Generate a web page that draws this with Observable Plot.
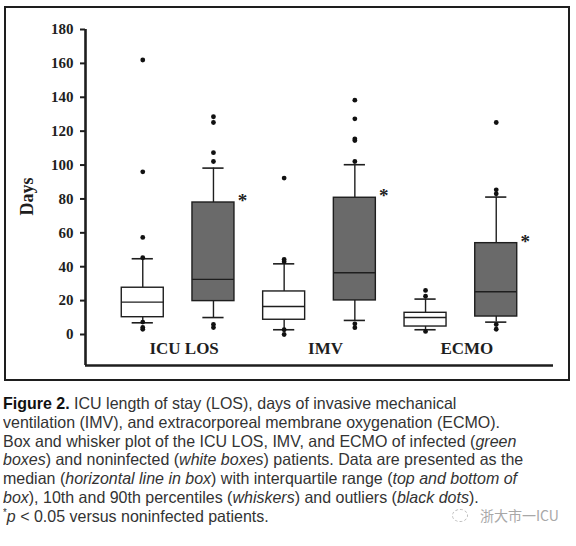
<!DOCTYPE html>
<html><head><meta charset="utf-8">
<script src="https://cdn.jsdelivr.net/npm/d3@7"></script>
<script src="https://cdn.jsdelivr.net/npm/@observablehq/plot@0.6"></script>
<style>
html,body{margin:0;padding:0;background:#fff}
body{width:576px;height:546px;position:relative;overflow:hidden}
#frame{position:absolute;left:4px;top:6px;width:562px;height:371px;border:2px solid #1e1e1e;overflow:hidden}
#caption{position:absolute;left:3px;top:394px;font-family:"Liberation Sans",Arial,sans-serif;font-size:16.5px;line-height:18.8px;color:#333;white-space:nowrap;transform-origin:0 0}
#caption b{color:#111}
#caption .l{display:inline-block}
#wm{position:absolute;left:452px;top:505px;color:#a8a8a8;font-size:14px;font-family:"Noto Sans CJK SC",sans-serif;white-space:nowrap}
#wm .ic{display:inline-block;width:14px;height:11px;border:1px dashed #bbb;border-radius:50%;margin-right:12px;vertical-align:-1px}
svg g[aria-label="y-axis tick"] path, svg g[aria-label="y-axis"] .tick line{stroke-width:2px}
</style></head>
<body>
<div id="frame"></div>
<div id="caption"></div>
<div id="wm"><span class="ic"></span>浙大市一ICU</div>
<script>
// ---- data ----
const groups = ["ICU LOS", "IMV", "ECMO"];
const statuses = ["noninfected", "infected"];
// box order: ICU LOS non, ICU LOS inf, IMV non, IMV inf, ECMO non, ECMO inf
const p10    = [6.9, 10.0, 2.8, 8.3, 2.8, 7.3];
const q1     = [10.2, 19.7, 8.7, 20.1, 4.7, 10.6];
const median = [19.1, 32.5, 16.5, 36.4, 10.0, 25.2];
const q3     = [27.6, 77.9, 25.4, 80.7, 12.8, 53.9];
const p90    = [44.7, 98.2, 41.7, 100.2, 20.9, 81.1];
const outliers = [
  [162, 96, 57.3, 45.3, 7.3, 4.2, 3.1],
  [128.5, 125.1, 107.3, 102.1, 5.9, 4.1],
  [92.3, 44.3, 43, 2.8, 0],
  [138.3, 127.3, 115.5, 114.5, 102.1, 6.3, 4],
  [26, 22.6, 1.8],
  [125.1, 85.4, 83, 5.9, 3.1]
];
const significant = [false, true, false, true, false, true];
const yTicks = [0, 20, 40, 60, 80, 100, 120, 140, 160, 180];
const yLabel = "Days";

// ---- build tables ----
const boxes = groups.flatMap((g, gi) => statuses.map((s, si) => {
  const i = gi * 2 + si;
  return {group: g, status: s, pos: i + 1, p10: p10[i], q1: q1[i], median: median[i], q3: q3[i], p90: p90[i], sig: significant[i]};
}));
const dots = boxes.flatMap((b, i) => outliers[i].map(v => ({pos: b.pos, value: v})));
const labels = groups.map((g, gi) => ({group: g, pos: gi * 2 + 1.5}));

const xDomain = [0.19, 6.81];
const yDomain = [-18.3, 180];
const half = 0.297, cap = 0.15;
const fill = {noninfected: "#ffffff", infected: "#6a6a6a"};
const ink = "#1e1e1e";
const serif = "'Liberation Serif','Times New Roman',serif";

const chart = Plot.plot({
  width: 562, height: 371,
  marginLeft: 79, marginRight: 15, marginTop: 21, marginBottom: 14,
  style: {fontFamily: serif, fontWeight: "bold", fontSize: "15px", color: ink, background: "white"},
  x: {domain: xDomain, axis: null},
  y: {domain: yDomain, ticks: yTicks, tickSize: 5, tickPadding: 7, label: null},
  color: {type: "identity"},
  marks: [
    Plot.ruleX(boxes, {x: "pos", y1: "q3", y2: "p90", stroke: ink, strokeWidth: 1.4}),
    Plot.ruleX(boxes, {x: "pos", y1: "p10", y2: "q1", stroke: ink, strokeWidth: 1.4}),
    Plot.ruleY(boxes, {y: "p90", x1: d => d.pos - cap, x2: d => d.pos + cap, stroke: ink, strokeWidth: 1.6}),
    Plot.ruleY(boxes, {y: "p10", x1: d => d.pos - cap, x2: d => d.pos + cap, stroke: ink, strokeWidth: 1.6}),
    Plot.rect(boxes, {x1: d => d.pos - half, x2: d => d.pos + half, y1: "q1", y2: "q3", fill: d => fill[d.status], stroke: ink, strokeWidth: 1.4}),
    Plot.ruleY(boxes, {y: "median", x1: d => d.pos - half, x2: d => d.pos + half, stroke: ink, strokeWidth: 1.4}),
    Plot.dot(dots, {x: "pos", y: "value", r: 2.4, fill: "#111", stroke: null}),
    Plot.text(boxes.filter(d => d.sig), {x: d => d.pos + half, y: "q3", text: () => "*", dx: 8, dy: -1.5, fontSize: 19, fontWeight: "bold", fill: ink}),
    Plot.text(labels, {x: "pos", text: "group", frameAnchor: "bottom", dy: -17, dx: 6, lineAnchor: "middle", fontSize: 17, fontWeight: "bold", fill: ink}),
    Plot.text([yLabel], {text: d => d, frameAnchor: "left", dx: -58, dy: 18, rotate: -90, lineAnchor: "middle", fontSize: 18, fontWeight: "bold", fill: ink}),
    Plot.ruleX([xDomain[0]], {stroke: ink, strokeWidth: 2.6}),
    Plot.ruleY([yDomain[0]], {stroke: ink, strokeWidth: 2.6})
  ]
});
document.getElementById("frame").appendChild(chart);

// ---- caption ----
const captionLines = [
  "<b>Figure 2.</b> ICU length of stay (LOS), days of invasive mechanical",
  "ventilation (IMV), and extracorporeal membrane oxygenation (ECMO).",
  "Box and whisker plot of the ICU LOS, IMV, and ECMO of infected (<i>green</i>",
  "<i>boxes</i>) and noninfected (<i>white boxes</i>) patients. Data are presented as the",
  "median (<i>horizontal line in box</i>) with interquartile range (<i>top and bottom of</i>",
  "<i>box</i>), 10th and 90th percentiles (<i>whiskers</i>) and outliers (<i>black dots</i>).",
  "<sup style='font-size:10px;line-height:0'>*</sup><i>p</i> &lt; 0.05 versus noninfected patients."
];
const cap_ = document.getElementById("caption");
cap_.innerHTML = captionLines.map(l => `<span class="l">${l}</span>`).join("<br>");
const spans = cap_.querySelectorAll(".l");
const w = spans[4].getBoundingClientRect().width;
cap_.style.transform = `scaleX(${(514 / w).toFixed(4)})`;
</script>
</body></html>
